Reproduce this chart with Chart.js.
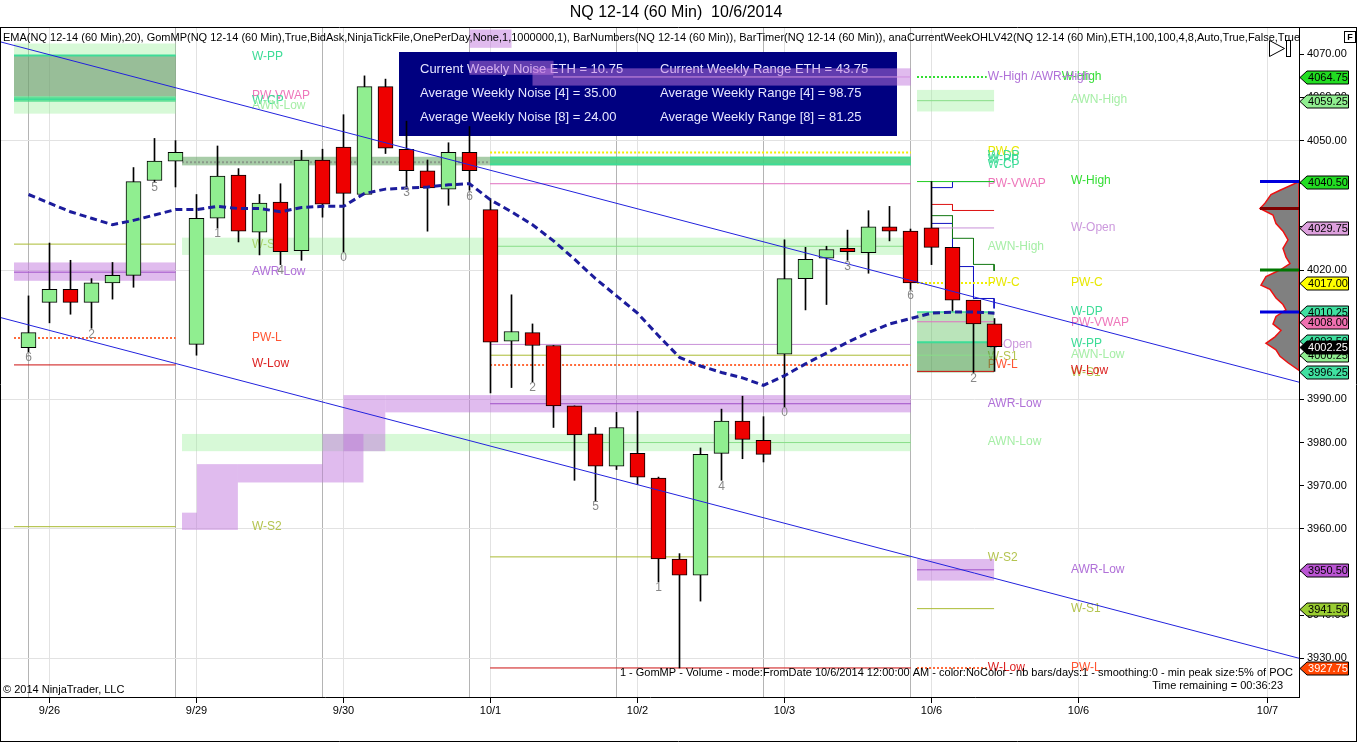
<!DOCTYPE html>
<html lang="en">
<head>
  <meta charset="UTF-8" />
  <title>NQ 12-14 (60 Min)  10/6/2014</title>
  <script src="https://cdn.jsdelivr.net/npm/chart.js@4.4.0/dist/chart.umd.min.js"></script>
  <style>
    html, body { margin: 0; padding: 0; background: #fff; overflow: hidden; }
    #wrap { width: 1360px; height: 743px; }
  </style>
</head>
<body>
  <div id="wrap"><canvas id="chart" width="1360" height="743"></canvas></div>

  <script>
    const FONT = '"Liberation Sans", Arial, Helvetica, sans-serif';

    // 60 min bars, index 0 .. 46 (9/26 - 10/6)
    const opens  = [4002.0, 4012.5, 4015.5, 4012.5, 4017.0, 4018.75, 4040.75, 4045.25, 4002.75, 4032.0,
                    4042.0, 4028.75, 4035.75, 4024.5, 4045.5, 4048.5, 4037.5, 4062.5, 4048.0, 4043.0,
                    4038.75, 4047.25, 4034.0, 4003.5, 4005.5, 4002.5, 3988.5, 3982.0, 3974.5, 3977.5,
                    3971.75, 3953.0, 3949.25, 3977.5, 3985.0, 3980.5, 4000.5, 4018.0, 4022.75, 4025.0,
                    4024.0, 4030.0, 4029.0, 4029.75, 4025.25, 4013.0, 4007.5];
    const highs  = [4014.0, 4026.25, 4022.25, 4018.0, 4021.75, 4043.75, 4050.5, 4050.0, 4037.5, 4048.75,
                    4043.5, 4037.5, 4040.0, 4047.75, 4048.0, 4056.0, 4065.0, 4064.25, 4054.5, 4045.5,
                    4049.5, 4053.25, 4036.5, 4014.25, 4007.5, 4002.5, 3988.5, 3983.5, 3987.0, 3987.25,
                    3972.0, 3954.25, 3978.75, 3987.75, 3990.75, 3986.0, 4027.0, 4025.25, 4025.5, 4029.25,
                    4033.75, 4034.75, 4029.5, 4040.5, 4025.25, 4013.0, 4008.75];
    const lows   = [4001.0, 4007.75, 4009.75, 4006.5, 4013.25, 4016.0, 4040.5, 4039.25, 4000.25, 4029.75,
                    4026.5, 4023.5, 4021.25, 4022.25, 4032.25, 4024.25, 4037.5, 4047.0, 4039.25, 4029.0,
                    4035.0, 4038.5, 3991.5, 3992.75, 3994.0, 3983.5, 3971.25, 3966.5, 3973.75, 3970.25,
                    3947.75, 3927.75, 3943.25, 3971.25, 3976.25, 3975.5, 3988.25, 4010.75, 4012.0, 4022.25,
                    4019.25, 4026.75, 4015.5, 4021.25, 4010.5, 3996.25, 3996.5];
    const closes = [4005.5, 4015.5, 4012.5, 4017.0, 4018.75, 4040.5, 4045.25, 4047.25, 4032.0, 4041.75,
                    4029.0, 4035.5, 4024.25, 4045.5, 4035.25, 4037.75, 4062.5, 4048.25, 4043.0, 4039.0,
                    4047.25, 4043.0, 4003.25, 4005.75, 4002.5, 3988.5, 3981.75, 3974.5, 3983.5, 3972.0,
                    3953.0, 3949.25, 3977.25, 3985.0, 3980.75, 3977.25, 4018.0, 4022.5, 4024.75, 4024.25,
                    4030.0, 4029.0, 4017.0, 4025.25, 4013.0, 4007.5, 4002.25];
    const ema20  = [4037.5, 4035.5, 4033.5, 4032.0, 4030.5, 4031.5, 4032.75, 4034.0, 4034.0, 4034.75,
                    4034.25, 4034.25, 4033.5, 4034.5, 4034.75, 4034.75, 4037.75, 4038.75, 4039.0, 4039.25,
                    4039.75, 4040.0, 4036.25, 4033.5, 4030.5, 4026.75, 4022.5, 4018.0, 4014.0, 4010.0,
                    4004.75, 3999.75, 3997.75, 3996.25, 3995.0, 3993.25, 3995.5, 3998.25, 4000.75, 4003.25,
                    4005.5, 4007.5, 4008.75, 4010.0, 4010.25, 4010.25, 4010.0];

    // BarNumbers indicator
    const barNumIdx = [0, 3, 6, 9, 12, 15, 18, 21, 24, 27, 30, 33, 36, 39, 42, 45];
    const barNumTxt = ['6', '2', '5', '1', '4', '0', '3', '6', '2', '5', '1', '4', '0', '3', '6', '2'];

    // axes
    const sessionIdx = [0, 7, 14, 21, 28, 35, 42];
    const dateIdx    = [1, 8, 15, 22, 29, 36, 43, 50, 59];
    const dateLabels = ['9/26', '9/29', '9/30', '10/1', '10/2', '10/3', '10/6', '10/6', '10/7'];
    const yTicks = [3930, 3940, 3950, 3960, 3970, 3980, 3990, 4000, 4010, 4020, 4030, 4040, 4050, 4060, 4070];
    const yGrid  = [3930, 3960, 3990, 4020, 4050];
    const xMin = -1.3095, xMax = 60.5;
    const yMin = 3921.02, yMax = 4076.33;

    // channel (bar index, price)
    const trendUpper = [[-1.31, 4072.85], [60.5, 3994.0]];
    const trendLower = [[-1.31, 4008.95], [60.5, 3930.0]];

    // weekly levels (anaCurrentWeekOHLV)
    const lvlName  = ['W-PP', 'W-CP', 'W-S1', 'AWR-Low', 'PW-L', 'W-Low', 'W-S2',
                      'POC', 'PW-C', 'W-DP', 'W-CP', 'PW-VWAP', 'AWN-High', 'W-Open', 'W-S1', 'PW-L',
                      'AWR-Low', 'AWN-Low', 'W-S2', 'W-Low', 'AWR-High',
                      'W-High/AWR', 'AWN-High', 'W-High', 'W-Open', 'PW-C', 'W-DP', 'PW-VWAP', 'W-PP',
                      'AWN-Low', 'W-Low', 'AWR-Low', 'W-S1', 'PW-L'];
    const lvlPrice = [4069.75, 4059.6, 4026.0, 4019.5, 4004.25, 3998.0, 3960.5,
                      4045.0, 4047.25, 4046.1, 4044.5, 4040.0, 4025.5, 4002.75, 4000.25, 3998.0,
                      3989.0, 3980.0, 3953.5, 3927.75, 4064.75,
                      4064.75, 4059.25, 4040.5, 4029.75, 4017.0, 4010.25, 4008.0, 4003.25,
                      4000.25, 3996.5, 3950.5, 3941.5, 3927.75];
    const lvlFrom  = [-0.69, -0.69, -0.69, -0.69, -0.69, -0.69, -0.69,
                      7.31, 21.98, 21.98, 21.98, 21.98, 21.98, 21.98, 21.98, 21.98,
                      21.98, 21.98, 21.98, 21.98, 24.98,
                      42.31, 42.31, 42.31, 43.0, 42.31, 42.31, 42.31, 42.31,
                      42.31, 42.31, 42.31, 42.31, 42.31];
    const lvlTo    = [7.01, 7.01, 7.01, 7.01, 7.01, 7.01, 7.01,
                      21.98, 42.02, 42.02, 42.02, 42.02, 42.02, 42.02, 42.02, 42.02,
                      42.02, 42.02, 42.02, 42.02, 42.02,
                      45.63, 45.98, 45.98, 45.98, 45.98, 45.98, 45.98, 45.98,
                      45.98, 45.98, 45.98, 45.98, 45.63];

    // developing levels of the current week
    const stepBlueHi = [[43.0, 4039.1], [44.0, 4039.1], [44.0, 4040.5], [45.98, 4040.5]];
    const stepRed    = [[43.0, 4035.2], [44.0, 4035.2], [44.0, 4033.8], [45.98, 4033.8]];
    const stepGreen  = [[43.0, 4032.6], [44.0, 4032.6], [44.0, 4027.35], [45.0, 4027.35], [45.0, 4021.3], [45.98, 4021.3], [45.98, 4019.8]];
    const stepBlueLo = [[43.0, 4030.8], [44.0, 4030.8], [44.0, 4020.8], [45.0, 4020.8], [45.0, 4013.4], [45.98, 4013.4], [45.98, 4011.1]];

    // shaded zones: bar index span and price span
    const zoneKind = ['awn', 'vaDark', 'vaEdge', 'awr',
                      'vaMid', 'vaEdge', 'awn', 'awn',
                      'awr', 'awr', 'awr', 'awr', 'awr', 'awr',
                      'awr', 'awr', 'awr',
                      'awn', 'vaTop', 'vaBot', 'awr'];
    const zoneFrom = [-0.69, -0.69, -0.69, -0.69,
                      7.31, 21.98, 7.31, 7.31,
                      7.31, 8.02, 9.97, 14.0, 15.0, 16.99,
                      21.0, 21.0, 24.0,
                      42.31, 42.31, 42.31, 42.31];
    const zoneTo   = [7.01, 7.01, 7.01, 7.01,
                      42.02, 42.02, 42.02, 42.02,
                      8.02, 9.97, 14.0, 15.95, 16.99, 42.02,
                      23.0, 25.0, 42.02,
                      45.98, 45.98, 45.98, 45.98];
    const zoneLo   = [4056.25, 4060.25, 4059.0, 4017.5,
                      4044.25, 4044.25, 4023.5, 3978.0,
                      3959.75, 3959.75, 3970.75, 3970.75, 3978.0, 3987.0,
                      4071.5, 4065.25, 4062.75,
                      4056.75, 4003.25, 3996.25, 3948.0];
    const zoneHi   = [4072.5, 4069.75, 4060.25, 4021.75,
                      4046.25, 4046.25, 4027.5, 3982.0,
                      3963.75, 3975.0, 3975.0, 3982.0, 3991.0, 3991.0,
                      4075.75, 4068.5, 4066.75,
                      4061.75, 4010.25, 4003.25, 3953.0];

    // level names printed on the chart
    const tagText  = ['W-PP', 'PW-VWAP', 'W-CP', 'AWN-Low', 'W-S1', 'AWR-Low', 'PW-L', 'W-Low', 'W-S2',
                      'W-High', 'AWN-High', 'W-High', 'W-Open', 'PW-C', 'W-DP', 'PW-VWAP', 'W-PP', 'AWN-Low',
                      'W-S1', 'W-Low', 'AWR-Low', 'W-S1', 'PW-L',
                      'W-High /AWR-High', 'PW-C', 'W-DP', 'W-PP', 'W-CP', 'PW-VWAP', 'AWN-High', 'PW-C',
                      'W-Open', 'W-S1', 'PW-L', 'AWR-Low', 'AWN-Low', 'W-S2', 'W-Low'];
    const tagPrice = [4069.4, 4060.3, 4059.2, 4058.0, 4025.8, 4019.5, 4004.4, 3998.2, 3960.4,
                      4064.75, 4059.4, 4040.6, 4029.7, 4017.0, 4010.3, 4007.9, 4003.0, 4000.3,
                      3996.3, 3996.6, 3950.5, 3941.5, 3927.75,
                      4064.7, 4047.35, 4046.4, 4045.5, 4044.3, 4039.9, 4025.3, 4017.0,
                      4002.6, 4000.0, 3998.1, 3989.0, 3980.1, 3953.4, 3927.75];
    const tagAt    = [10.64, 10.64, 10.64, 10.64, 10.64, 10.64, 10.64, 10.64, 10.64,
                      49.2, 49.64, 49.64, 49.64, 49.64, 49.64, 49.64, 49.64, 49.64,
                      49.64, 49.64, 49.64, 49.64, 49.64,
                      45.68, 45.68, 45.68, 45.68, 45.68, 45.68, 45.68, 45.68,
                      45.68, 45.68, 45.68, 45.68, 45.68, 45.68, 45.68];

    // GomMP volume profile of 10/6 (relative volume)
    const profilePrice = [4040.5, 4038.5, 4037.5, 4035.5, 4034.25, 4032.75, 4030.75, 4029.0, 4027.0, 4025.0,
                          4023.0, 4021.5, 4020.0, 4018.5, 4016.5, 4015.5, 4013.5, 4012.0, 4010.75, 4009.25,
                          4007.5, 4006.0, 4004.5, 4003.0, 4001.5, 4000.0, 3998.5, 3996.75];
    const profileVol   = [0, 19, 28, 34, 39, 26, 23, 16, 11, 16,
                          13, 9, 19, 33, 38, 29, 23, 16, 13, 23,
                          26, 18, 24, 33, 23, 19, 11, 0];
    const profMarkPrice = [4040.5, 4034.25, 4020.0, 4010.25];
    const profMarkKind  = ['blue', 'poc', 'green', 'blue'];
    const profMarkVol   = 39;

    // price markers on the axis
    const flagPrice = [4064.75, 4059.25, 4040.50, 4029.75, 4017.00, 4010.25, 4008.00, 4003.50, 4000.25, 3996.25,
                       4002.25, 3950.50, 3941.50, 3927.75];
    const flagKind  = ['wHigh', 'awn', 'wHigh', 'wOpen', 'pwc', 'teal', 'pink', 'teal', 'awn', 'teal',
                       'last', 'awr', 'ws1', 'wlow'];

    const infoLeft  = ['Current Weekly Noise ETH = 10.75', 'Average Weekly Noise [4] = 35.00', 'Average Weekly Noise [8] = 24.00'];
    const infoRight = ['Current Weekly Range ETH = 43.75', 'Average Weekly Range [4] = 98.75', 'Average Weekly Range [8] = 81.25'];

    const titleText = 'NQ 12-14 (60 Min)  10/6/2014';
    const indicatorText = 'EMA(NQ 12-14 (60 Min),20), GomMP(NQ 12-14 (60 Min),True,BidAsk,NinjaTickFile,OnePerDay,None,1,1000000,1), BarNumbers(NQ 12-14 (60 Min)), BarTimer(NQ 12-14 (60 Min)), anaCurrentWeekOHLV42(NQ 12-14 (60 Min),ETH,100,100,4,8,Auto,True,False,True)';
    const profileText = '1 - GomMP - Volume - mode:FromDate 10/6/2014 12:00:00 AM - color:NoColor - nb bars/days:1 - smoothing:0 - min peak size:5% of POC';
    const timerText = 'Time remaining = 00:36:23';

    // ---- styles ----
    const lvlStyle = {
      'W-PP':       { color: '#3ddc97', width: 2 },
      'W-DP':       { color: '#3ddc97', width: 1.5 },
      'W-CP':       { color: '#3ddc97', width: 1.5 },
      'PW-VWAP':    { color: '#e070c0', width: 1 },
      'W-S1':       { color: '#aabb33', width: 1 },
      'W-S2':       { color: '#aabb33', width: 1 },
      'AWR-Low':    { color: '#a050c8', width: 1 },
      'AWR-High':   { color: '#d090e0', width: 1 },
      'PW-L':       { color: '#ff6a3a', width: 2, dash: [2, 2] },
      'W-Low':      { color: '#cc1010', width: 1 },
      'PW-C':       { color: '#f0f000', width: 2, dash: [2, 2] },
      'W-High':     { color: '#22cc22', width: 1 },
      'W-High/AWR': { color: '#33dd33', width: 2, dash: [2, 2] },
      'W-Open':     { color: '#c890d8', width: 1 },
      'AWN-Low':    { color: '#88dd88', width: 1 },
      'AWN-High':   { color: '#88dd88', width: 1 },
      'POC':        { color: '#8a9a8a', width: 2, dash: [2, 2] }
    };
    const tagColor = {
      'W-PP': '#3ddc97', 'W-DP': '#3ddc97', 'W-CP': '#3ddc97', 'PW-VWAP': '#ee77bb',
      'W-S1': '#b4c450', 'W-S2': '#b4c450', 'AWR-Low': '#b070d8', 'W-High /AWR-High': '#b070d8',
      'PW-L': '#ff5533', 'W-Low': '#dd2222', 'PW-C': '#e8e800', 'W-High': '#33dd33',
      'W-Open': '#cc99dd', 'AWN-Low': '#a6eea6', 'AWN-High': '#a6eea6'
    };
    const zoneFill = {
      awn:    'rgba(150, 238, 150, 0.38)',
      awr:    'rgba(193, 119, 221, 0.5)',
      vaDark: 'rgba(100, 140, 100, 0.55)',
      vaEdge: 'rgba(60, 215, 130, 0.75)',
      vaMid:  'rgba(110, 170, 110, 0.6)',
      vaTop:  'rgba(90, 190, 90, 0.42)',
      vaBot:  'rgba(60, 150, 60, 0.55)'
    };
    const flagStyle = {
      wHigh: ['#22dd22', '#000'], awn: ['#90ee90', '#000'], wOpen: ['#dda0dd', '#000'],
      pwc: ['#ffff00', '#000'], teal: ['#40e0a0', '#000'], pink: ['#f070b0', '#000'],
      last: ['#000000', '#fff'], awr: ['#ba55d3', '#000'], ws1: ['#9acd32', '#000'],
      wlow: ['#ff4500', '#fff']
    };
    const markColor = { blue: '#0000dd', poc: '#800000', green: '#007700' };

    const GREEN = '#90ee90', RED = '#ee0000';

    // ---- datasets ----
    const datasets = [];

    lvlName.forEach((n, i) => {
      const s = lvlStyle[n];
      datasets.push({
        type: 'line', xAxisID: 'x', yAxisID: 'y', order: 6,
        data: [{ x: lvlFrom[i], y: lvlPrice[i] }, { x: lvlTo[i], y: lvlPrice[i] }],
        borderColor: s.color, borderWidth: s.width, borderDash: s.dash || [],
        pointRadius: 0, fill: false
      });
    });

    [[stepBlueHi, '#1010c0'], [stepRed, '#dd1111'], [stepGreen, '#117711'], [stepBlueLo, '#1010c0']].forEach(([pts, c]) => {
      datasets.push({
        type: 'line', xAxisID: 'x', yAxisID: 'y', order: 6,
        data: pts.map(p => ({ x: p[0], y: p[1] })),
        borderColor: c, borderWidth: 1, pointRadius: 0, fill: false
      });
    });

    datasets.push({
      type: 'bar', xAxisID: 'x', yAxisID: 'y', order: 5, grouped: false,
      data: highs.map((h, i) => ({ x: i, y: [lows[i], h] })),
      backgroundColor: '#000', borderWidth: 0, barThickness: 1
    });

    datasets.push({
      type: 'bar', xAxisID: 'x', yAxisID: 'y', order: 4, grouped: false,
      data: opens.map((o, i) => ({ x: i, y: [o, closes[i]] })),
      backgroundColor: opens.map((o, i) => closes[i] >= o ? GREEN : RED),
      borderColor: '#000', borderWidth: 1, borderSkipped: false, barThickness: 15
    });

    datasets.push({
      type: 'line', xAxisID: 'x', yAxisID: 'y', order: 3,
      data: ema20.map((v, i) => ({ x: i, y: v })),
      borderColor: '#1c1c9c', borderWidth: 3, borderDash: [7, 4], pointRadius: 0, fill: false
    });

    [trendUpper, trendLower].forEach(t => {
      datasets.push({
        type: 'line', xAxisID: 'x', yAxisID: 'y', order: 2,
        data: t.map(p => ({ x: p[0], y: p[1] })),
        borderColor: '#2222dd', borderWidth: 1, pointRadius: 0, fill: false
      });
    });

    // ---- drawing of the non-dataset parts ----
    function drawFlag(ctx, px, py, fill, txt, label) {
      ctx.beginPath();
      ctx.moveTo(px, py);
      ctx.lineTo(px + 7, py - 6.5);
      ctx.lineTo(px + 48.5, py - 6.5);
      ctx.lineTo(px + 48.5, py + 6.5);
      ctx.lineTo(px + 7, py + 6.5);
      ctx.closePath();
      ctx.fillStyle = fill;
      ctx.fill();
      ctx.strokeStyle = '#000';
      ctx.lineWidth = 1;
      ctx.stroke();
      ctx.fillStyle = txt;
      ctx.textAlign = 'center';
      ctx.textBaseline = 'middle';
      ctx.fillText(label, px + 28, py + 0.5);
    }

    const overlay = {
      id: 'overlay',
      beforeDatasetsDraw(chart) {
        const { ctx, chartArea: a, scales: { x, y } } = chart;
        ctx.save();
        ctx.beginPath();
        ctx.rect(a.left, a.top, a.right - a.left, a.bottom - a.top);
        ctx.clip();

        // info box
        ctx.fillStyle = '#000080';
        ctx.fillRect(a.left + 398, a.top + 25, 498, 84);
        ctx.fillStyle = '#e6e6ff';
        ctx.font = '13px ' + FONT;
        ctx.textAlign = 'left';
        ctx.textBaseline = 'middle';
        infoLeft.forEach((t, i) => ctx.fillText(t, a.left + 419, a.top + 42 + i * 24));
        infoRight.forEach((t, i) => ctx.fillText(t, a.left + 659, a.top + 42 + i * 24));

        // level names
        ctx.font = '12px ' + FONT;
        tagText.forEach((t, i) => {
          ctx.fillStyle = tagColor[t];
          ctx.fillText(t, x.getPixelForValue(tagAt[i]), y.getPixelForValue(tagPrice[i]));
        });

        // zones
        zoneKind.forEach((k, i) => {
          const x1 = x.getPixelForValue(zoneFrom[i]), x2 = x.getPixelForValue(zoneTo[i]);
          const y1 = y.getPixelForValue(zoneHi[i]), y2 = y.getPixelForValue(zoneLo[i]);
          ctx.fillStyle = zoneFill[k];
          ctx.fillRect(x1, y1, x2 - x1, y2 - y1);
        });
        ctx.restore();
      },

      afterDatasetsDraw(chart) {
        const { ctx, chartArea: a, scales: { x, y, vol } } = chart;
        ctx.save();
        ctx.beginPath();
        ctx.rect(a.left, a.top, a.right - a.left, a.bottom - a.top);
        ctx.clip();

        // bar numbers
        ctx.font = '12px ' + FONT;
        ctx.fillStyle = '#888';
        ctx.textAlign = 'center';
        ctx.textBaseline = 'middle';
        barNumIdx.forEach((b, i) => {
          ctx.fillText(barNumTxt[i], x.getPixelForValue(b), y.getPixelForValue(lows[b]) + 6);
        });

        // volume profile
        ctx.beginPath();
        profilePrice.forEach((p, i) => {
          const px = vol.getPixelForValue(profileVol[i]), py = y.getPixelForValue(p);
          if (i === 0) ctx.moveTo(px, py); else ctx.lineTo(px, py);
        });
        ctx.closePath();
        ctx.fillStyle = '#808080';
        ctx.fill();
        ctx.strokeStyle = '#ee1111';
        ctx.lineWidth = 1.5;
        ctx.stroke();

        ctx.lineWidth = 3;
        profMarkPrice.forEach((p, i) => {
          const py = y.getPixelForValue(p);
          ctx.strokeStyle = markColor[profMarkKind[i]];
          ctx.beginPath();
          ctx.moveTo(vol.getPixelForValue(profMarkVol), py);
          ctx.lineTo(vol.getPixelForValue(0), py);
          ctx.stroke();
        });

        // header text of indicators
        ctx.font = '11px ' + FONT;
        ctx.fillStyle = '#000';
        ctx.textAlign = 'left';
        ctx.fillText(indicatorText, a.left + 2, a.top + 11);

        ctx.textAlign = 'right';
        ctx.fillText(profileText, a.right - 6, a.bottom - 24);
        ctx.fillText(timerText, a.right - 16, a.bottom - 11);
        ctx.textAlign = 'left';
        ctx.fillText('\u00a9 2014 NinjaTrader, LLC', a.left + 2, a.bottom - 7);

        // chart-trader arrows
        ctx.strokeStyle = '#000';
        ctx.lineWidth = 1;
        ctx.fillStyle = '#fff';
        ctx.beginPath();
        ctx.moveTo(1269.5, 40.5); ctx.lineTo(1284.5, 48.5); ctx.lineTo(1269.5, 56.5); ctx.closePath();
        ctx.fill(); ctx.stroke();
        ctx.fillRect(1286.5, 40.5, 4, 16);
        ctx.strokeRect(1286.5, 40.5, 4, 16);
        ctx.restore();
      },

      afterDraw(chart) {
        const { ctx, chartArea: a, scales: { y } } = chart;
        ctx.save();

        // frame
        ctx.strokeStyle = '#000';
        ctx.lineWidth = 1;
        ctx.beginPath();
        ctx.moveTo(0.5, a.top + 0.5); ctx.lineTo(1356.5, a.top + 0.5);
        ctx.moveTo(0.5, a.top); ctx.lineTo(0.5, 742);
        ctx.moveTo(1356.5, a.top); ctx.lineTo(1356.5, 742);
        ctx.moveTo(0, 741.5); ctx.lineTo(1357, 741.5);
        ctx.moveTo(a.right + 0.5, a.top); ctx.lineTo(a.right + 0.5, a.bottom);
        ctx.stroke();

        // "F" box
        ctx.fillStyle = '#fff';
        ctx.fillRect(1344.5, 31.5, 11, 11);
        ctx.strokeRect(1344.5, 31.5, 11, 11);
        ctx.fillStyle = '#000';
        ctx.font = 'bold 9px ' + FONT;
        ctx.textAlign = 'center';
        ctx.textBaseline = 'middle';
        ctx.fillText('F', 1350, 37.5);

        // title
        ctx.font = '16px ' + FONT;
        ctx.fillText(titleText, 676, 13);

        // axis markers
        ctx.font = '11px ' + FONT;
        flagPrice.forEach((p, i) => {
          const st = flagStyle[flagKind[i]];
          drawFlag(ctx, a.right + 1, Math.round(y.getPixelForValue(p)) + 0.5, st[0], st[1], p.toFixed(2));
        });
        ctx.restore();
      }
    };

    new Chart(document.getElementById('chart'), {
      type: 'line',
      data: { datasets },
      options: {
        responsive: false,
        animation: false,
        devicePixelRatio: 1,
        events: [],
        layout: { padding: { left: 1, top: 27, right: 4, bottom: 1 } },
        plugins: { legend: { display: false }, tooltip: { enabled: false } },
        scales: {
          x: {
            type: 'linear', min: xMin, max: xMax, offset: false,
            afterBuildTicks: s => { s.ticks = [...sessionIdx, ...dateIdx].sort((p, q) => p - q).map(v => ({ value: v })); },
            afterFit: s => { s.height = 45; },
            grid: {
              offset: false,
              color: c => c.tick && sessionIdx.includes(c.tick.value) ? '#b4b4b4' : '#e2e2e2',
              tickColor: c => c.tick && sessionIdx.includes(c.tick.value) ? 'rgba(0,0,0,0)' : '#000',
              tickLength: 6
            },
            border: { color: '#000' },
            ticks: {
              autoSkip: false, maxRotation: 0, padding: 1, color: '#000',
              font: { family: FONT, size: 11 },
              callback: v => { const k = dateIdx.indexOf(v); return k >= 0 ? dateLabels[k] : ''; }
            }
          },
          vol: { type: 'linear', axis: 'x', position: 'bottom', display: false, reverse: true, min: 0, max: 1298 },
          y: {
            type: 'linear', position: 'right', min: yMin, max: yMax,
            afterBuildTicks: s => { s.ticks = yTicks.map(v => ({ value: v })); },
            afterFit: s => { s.width = 57; },
            grid: {
              color: c => c.tick && yGrid.includes(c.tick.value) ? '#e2e2e2' : 'rgba(0,0,0,0)',
              tickColor: '#000',
              tickLength: 5
            },
            border: { color: '#000' },
            ticks: {
              padding: 3, color: '#000',
              font: { family: FONT, size: 11 },
              callback: v => Number(v).toFixed(2)
            }
          }
        }
      },
      plugins: [overlay]
    });
  </script>
</body>
</html>
